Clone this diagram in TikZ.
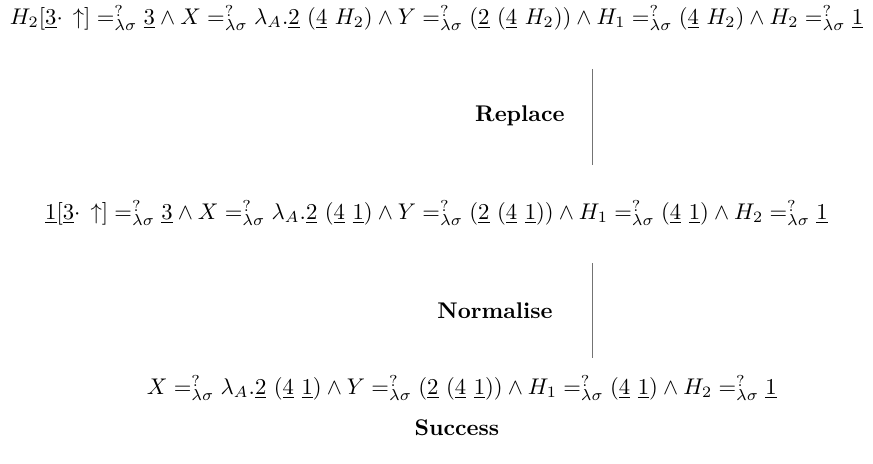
\documentclass[tikz,border=0pt]{standalone}
\newcommand{\equ}{\mathrel{=^{?}_{\lambda\sigma}}}
\newcommand{\ul}[1]{\underline{#1}}
\begin{document}
\begin{tikzpicture}[x=1pt, y=-1pt, every node/.style={inner sep=0pt}]
    \useasboundingbox (0,0) rectangle (385,204.6);
    \node (r1) at (192.5,8) {$H_2[\ul{3}{\cdot}\,\uparrow] \equ \ul{3} \wedge X \equ \lambda_A.\ul{2}\ (\ul{4}\ H_2) \wedge Y \equ (\ul{2}\ (\ul{4}\ H_2)) \wedge H_1 \equ (\ul{4}\ H_2) \wedge H_2 \equ \ul{1}$};
    \node (r2) at (192.5,94) {$\ul{1}[\ul{3}{\cdot}\,\uparrow] \equ \ul{3} \wedge X \equ \lambda_A.\ul{2}\ (\ul{4}\ \ul{1}) \wedge Y \equ (\ul{2}\ (\ul{4}\ \ul{1})) \wedge H_1 \equ (\ul{4}\ \ul{1}) \wedge H_2 \equ \ul{1}$};
    \node (r3) at (203.7,171.1) {$X \equ \lambda_A.\ul{2}\ (\ul{4}\ \ul{1}) \wedge Y \equ (\ul{2}\ (\ul{4}\ \ul{1})) \wedge H_1 \equ (\ul{4}\ \ul{1}) \wedge H_2 \equ \ul{1}$};
    \node (ok) at (201.5,188.7) {\textbf{Success}};
    \node (replace) at (229.3,51.2) {\textbf{Replace}};
    \node (norm) at (218.3,137.2) {\textbf{Normalise}};
    \coordinate (a1) at (261.1,30.4);
    \coordinate (b1) at (261.1,72.8);
    \coordinate (a2) at (261.1,116);
    \coordinate (b2) at (261.1,157.9);
    \draw[gray!90!black] (a1)--(b1);
    \draw[gray!90!black] (a2)--(b2);
\end{tikzpicture}
\end{document}
